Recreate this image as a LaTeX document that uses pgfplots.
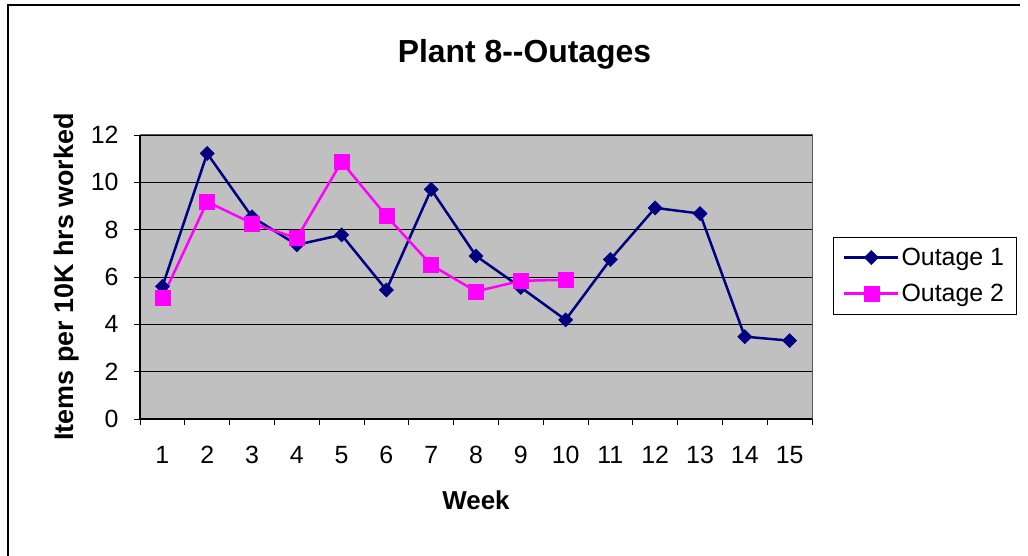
\documentclass[border=0pt]{standalone}
\usepackage{pgfplots}
\pgfplotsset{compat=1.18}
\usepackage{fontspec}
\setmainfont{Liberation Sans}
\definecolor{plotgray}{HTML}{C0C0C0}
\definecolor{navyc}{HTML}{000080}
\definecolor{magc}{HTML}{FF00FF}
\begin{document}
\begin{tikzpicture}
\path[use as bounding box] (0bp,0bp) rectangle (1028bp,556bp);
\draw[line width=1.3bp] (8bp,0bp) -- (8bp,551bp) -- (1020bp,551bp);
\begin{axis}[
  at={(140bp,137bp)}, anchor=south west,
  scale only axis, width=672bp, height=284bp,
  xmin=0.5, xmax=15.5, ymin=0, ymax=12,
  axis background/.style={fill=plotgray},
  axis line style={draw=gray!70!black, line width=1bp},
  xtick={1,...,15},
  xtick style={draw=none},
  minor xtick={0.5,1.5,...,15.5},
  minor x tick style={draw=black, line width=0.8bp},
  ytick={0,2,...,12},
  ytick style={draw=black, line width=0.8bp},
  xtick pos=bottom, ytick pos=left,
  tick align=outside,
  major tick length=6bp, minor tick length=6bp,
  ymajorgrids, grid style={black, line width=0.8bp},
  /pgf/number format/assume math mode=true,
  ticklabel style={font=\fontsize{25}{27}\selectfont},
  xticklabel style={yshift=-18bp},
  yticklabel style={xshift=-12bp},
  clip=false,
  legend style={at={(1.031,0.641)}, anchor=north west, draw=black,
    fill=white, font=\fontsize{25}{29}\selectfont, inner xsep=10bp, inner ysep=9bp,
    row sep=13bp},
  legend cell align=left,
  legend image code/.code={%
    \draw[line width=2.5bp, mark repeat=2, mark phase=2] plot coordinates {(0bp,0bp) (27bp,0bp) (54bp,0bp)};},
]
\addplot[navyc, line width=2.5bp, mark=square*, mark size=5bp, mark options={rotate=45, line width=0.5bp}]
coordinates {(1,5.60) (2,11.22) (3,8.54) (4,7.36) (5,7.78) (6,5.45) (7,9.70) (8,6.89) (9,5.56) (10,4.19) (11,6.74) (12,8.92) (13,8.68) (14,3.48) (15,3.31)};
\addlegendentry{Outage 1}
\addplot[magc, line width=2.5bp, mark=square*, mark size=7.5bp, mark options={line width=0.5bp}]
coordinates {(1,5.13) (2,9.18) (3,8.27) (4,7.64) (5,10.87) (6,8.58) (7,6.51) (8,5.39) (9,5.84) (10,5.88)};
\addlegendentry{Outage 2}
\draw[black, line width=1.2bp] (rel axis cs:0,1) -- (rel axis cs:0,0) -- (rel axis cs:1,0);
\end{axis}
\node[anchor=base, font=\bfseries\fontsize{32}{36}\selectfont] at (524.5bp,493bp) {Plant 8-{}-Outages};
\node[anchor=base, rotate=90, font=\bfseries\fontsize{27}{30}\selectfont] at (73bp,279bp) {Items per 10K hrs worked};
\node[anchor=base, font=\bfseries\fontsize{26}{30}\selectfont] at (476bp,46bp) {Week};
\end{tikzpicture}
\end{document}
